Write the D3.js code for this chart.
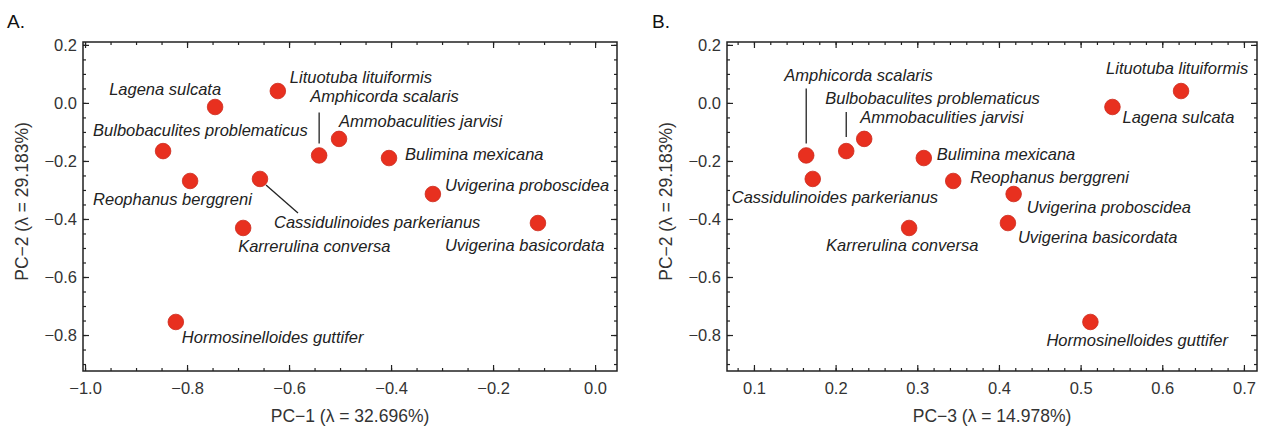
<!DOCTYPE html>
<html>
<head>
<meta charset="utf-8">
<script src="https://cdnjs.cloudflare.com/ajax/libs/d3/7.8.5/d3.min.js"></script>
<style>
    body { margin: 0; background: #fff; }
    #chart { width: 1261px; height: 430px; }
    text { font-family: "Liberation Sans", Arial, sans-serif; }
    .tick text { font-size: 16.5px; fill: #333; }
    .tick line { stroke: #222; stroke-width: 1.2; }
    .species { font-size: 16.5px; font-style: italic; fill: #222; }
    .axis-title { font-size: 17.5px; fill: #333; }
    .panel-label { font-size: 19px; fill: #111; }
</style>
</head>
<body>
<div id="chart"></div>
<script>

// PCA loadings per species
let species = [
    'Lagena sulcata', 'Lituotuba lituiformis', 'Bulbobaculites problematicus',
    'Reophanus berggreni', 'Cassidulinoides parkerianus', 'Karrerulina conversa',
    'Hormosinelloides guttifer', 'Amphicorda scalaris', 'Ammobaculities jarvisi',
    'Bulimina mexicana', 'Uvigerina proboscidea', 'Uvigerina basicordata'
];
let pc1 = [-0.745, -0.622, -0.847, -0.794, -0.657, -0.690, -0.822, -0.541, -0.502, -0.404, -0.318, -0.112];
let pc2 = [-0.014, 0.041, -0.166, -0.269, -0.262, -0.431, -0.755, -0.181, -0.124, -0.190, -0.314, -0.414];
let pc3 = [0.539, 0.623, 0.213, 0.344, 0.172, 0.290, 0.512, 0.164, 0.235, 0.308, 0.418, 0.411];

// tick labels
let pc1Ticks = [-1.0, -0.8, -0.6, -0.4, -0.2, 0.0];
let pc3Ticks = [0.1, 0.2, 0.3, 0.4, 0.5, 0.6, 0.7];
let pc2Ticks = [0.2, 0.0, -0.2, -0.4, -0.6, -0.8];

// label placement (offsets from the dot, in px) - [dx, dy, anchor, leader]
let labelsA = {
    'Lagena sulcata': [6, -12, 'end'],
    'Lituotuba lituiformis': [12, -8],
    'Bulbobaculites problematicus': [-70, -15],
    'Reophanus berggreni': [-97, 24],
    'Cassidulinoides parkerianus': [14, 49, 'start', [6, 6, 38, 34]],
    'Karrerulina conversa': [-5, 24],
    'Hormosinelloides guttifer': [6, 21],
    'Amphicorda scalaris': [-9, -53, 'start', [0, -12, 0, -43]],
    'Ammobaculities jarvisi': [0, -12],
    'Bulimina mexicana': [16, 2],
    'Uvigerina proboscidea': [12, -3],
    'Uvigerina basicordata': [-93, 28]
};
let labelsB = {
    'Lagena sulcata': [10, 16],
    'Lituotuba lituiformis': [-75, -17],
    'Bulbobaculites problematicus': [-21, -47, 'start', [0, -14, 0, -39]],
    'Reophanus berggreni': [17, 2],
    'Cassidulinoides parkerianus': [-81, 24],
    'Karrerulina conversa': [-83, 23],
    'Hormosinelloides guttifer': [-44, 24],
    'Amphicorda scalaris': [-22, -74, 'start', [0, -12, 0, -67]],
    'Ammobaculities jarvisi': [-4, -16],
    'Bulimina mexicana': [13, 2],
    'Uvigerina proboscidea': [13, 19],
    'Uvigerina basicordata': [10, 20]
};

let svg = d3.select('#chart').append('svg')
    .attr('width', 1261)
    .attr('height', 430);

let yScale = d3.scaleLinear().domain([-0.924, 0.21]).range([371, 42]);
let yMinor = d3.range(-0.9, 0.21, 0.05).map(d => Math.round(d * 100) / 100);

function drawPanel(cfg) {
    let g = svg.append('g');
    let x = d3.scaleLinear().domain(cfg.xDomain).range(cfg.xRange);
    let top = yScale.range()[1], bottom = yScale.range()[0];
    let left = cfg.xRange[0], right = cfg.xRange[1];
    let fmt = d3.format('.1f');

    // minor ticks
    g.append('g').attr('transform', `translate(0,${bottom})`)
        .call(d3.axisBottom(x).tickValues(cfg.xMinor).tickSize(-3).tickFormat(''));
    g.append('g').attr('transform', `translate(0,${top})`)
        .call(d3.axisTop(x).tickValues(cfg.xMinor).tickSize(-3).tickFormat(''));
    g.append('g').attr('transform', `translate(${left},0)`)
        .call(d3.axisLeft(yScale).tickValues(yMinor).tickSize(-3).tickFormat(''));
    g.append('g').attr('transform', `translate(${right},0)`)
        .call(d3.axisRight(yScale).tickValues(yMinor).tickSize(-3).tickFormat(''));

    // major ticks
    g.append('g').attr('transform', `translate(0,${bottom})`)
        .call(d3.axisBottom(x).tickValues(cfg.xTicks).tickSize(-6).tickPadding(11).tickFormat(fmt));
    g.append('g').attr('transform', `translate(0,${top})`)
        .call(d3.axisTop(x).tickValues(cfg.xTicks).tickSize(-6).tickFormat(''));
    g.append('g').attr('transform', `translate(${left},0)`)
        .call(d3.axisLeft(yScale).tickValues(pc2Ticks).tickSize(-6).tickPadding(6).tickFormat(fmt));
    g.append('g').attr('transform', `translate(${right},0)`)
        .call(d3.axisRight(yScale).tickValues(pc2Ticks).tickSize(-6).tickFormat(''));

    g.selectAll('.domain').remove();

    // frame
    g.append('rect')
        .attr('x', left).attr('y', top)
        .attr('width', right - left).attr('height', bottom - top)
        .attr('fill', 'none')
        .attr('stroke', '#222')
        .attr('stroke-width', 1.5);

    // axis titles
    g.append('text')
        .attr('class', 'axis-title')
        .attr('x', (left + right) / 2)
        .attr('y', 422)
        .attr('text-anchor', 'middle')
        .text(cfg.xTitle);

    g.append('text')
        .attr('class', 'axis-title')
        .attr('transform', `translate(${left - 55},${(top + bottom) / 2 - 5}) rotate(-90)`)
        .attr('text-anchor', 'middle')
        .text('PC\u22122 (\u03bb = 29.183%)');

    g.append('text')
        .attr('class', 'panel-label')
        .attr('x', cfg.labelX)
        .attr('y', 28)
        .text(cfg.panel);

    let data = species.map((s, i) => ({name: s, x: cfg.xValues[i], y: pc2[i]}));

    // leader lines
    g.selectAll('.leader')
        .data(data.filter(d => cfg.labels[d.name][3]))
        .enter().append('line')
        .attr('class', 'leader')
        .attr('x1', d => x(d.x) + cfg.labels[d.name][3][0])
        .attr('y1', d => yScale(d.y) + cfg.labels[d.name][3][1])
        .attr('x2', d => x(d.x) + cfg.labels[d.name][3][2])
        .attr('y2', d => yScale(d.y) + cfg.labels[d.name][3][3])
        .attr('stroke', '#222')
        .attr('stroke-width', 1.3);

    // dots
    g.selectAll('.dot')
        .data(data)
        .enter().append('circle')
        .attr('class', 'dot')
        .attr('cx', d => x(d.x))
        .attr('cy', d => yScale(d.y))
        .attr('r', 7.8)
        .attr('fill', '#e8301f')
        .attr('stroke', '#cc2a1c')
        .attr('stroke-width', 0.8);

    // species labels
    g.selectAll('.species')
        .data(data)
        .enter().append('text')
        .attr('class', 'species')
        .attr('x', d => x(d.x) + cfg.labels[d.name][0])
        .attr('y', d => yScale(d.y) + cfg.labels[d.name][1])
        .attr('text-anchor', d => cfg.labels[d.name][2] || 'start')
        .text(d => d.name);
}

drawPanel({
    panel: 'A.',
    labelX: 7,
    xDomain: [-1.004, 0.043],
    xRange: [83, 617],
    xTicks: pc1Ticks,
    xMinor: d3.range(-1.0, 0.04, 0.05).map(d => Math.round(d * 100) / 100),
    xValues: pc1,
    xTitle: 'PC\u22121 (\u03bb = 32.696%)',
    labels: labelsA
});

drawPanel({
    panel: 'B.',
    labelX: 652,
    xDomain: [0.067, 0.716],
    xRange: [727, 1257],
    xTicks: pc3Ticks,
    xMinor: d3.range(0.08, 0.716, 0.02).map(d => Math.round(d * 100) / 100),
    xValues: pc3,
    xTitle: 'PC\u22123 (\u03bb = 14.978%)',
    labels: labelsB
});

</script>
</body>
</html>
